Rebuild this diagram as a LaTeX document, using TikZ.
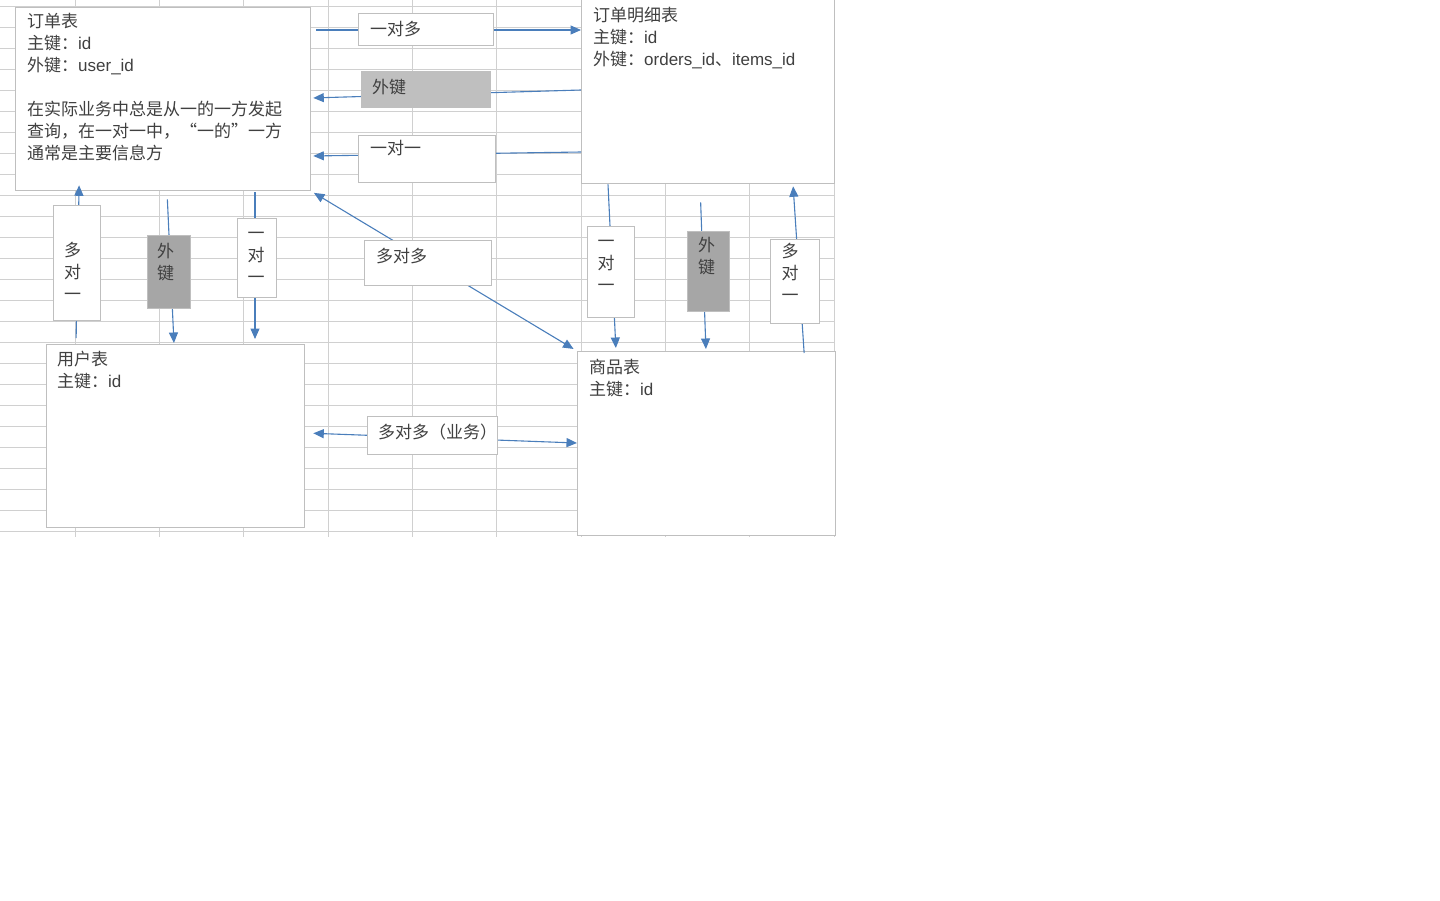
\documentclass[tikz,border=0pt]{standalone}
\usepackage{fontspec}
\setmainfont{Noto Sans CJK SC}
\newfontfamily\lat{Liberation Sans}
\usepackage{tikz}
\usetikzlibrary{shapes,arrows.meta}
\definecolor{gridgray}{HTML}{D0D0D0}
\definecolor{boxgray}{HTML}{BFBFBF}
\definecolor{fklight}{HTML}{BFBFBF}
\definecolor{fkdark}{HTML}{A6A6A6}
\definecolor{txtgray}{HTML}{404040}
\definecolor{linkblue}{HTML}{4A7EBB}
\newcommand{\en}[1]{{\lat #1}}
\tikzset{
  tablebox/.style = {draw=boxgray, line width=1.3pt, fill=white, rectangle, anchor=north west, inner sep=0pt},
  relbox/.style   = {tablebox},
  fkbox/.style    = {tablebox, fill=fklight},
  fkvbox/.style   = {tablebox, fill=fkdark},
  txt/.style      = {anchor=north west, inner sep=0pt, align=left, text=txtgray, font=\fontsize{17}{22}\selectfont},
  vtxt/.style     = {txt, anchor=center, align=center},
  link/.style     = {draw=linkblue, line width=1.1pt},
  gridline/.style = {draw=gridgray, line width=1pt}
}

\begin{document}
\begin{tikzpicture}[x=1pt, y=-1pt, >={Triangle[length=10.5pt, width=9pt]}]
\useasboundingbox (0,0) rectangle (1440,900);

% Sheet grid
\foreach \r in {0,...,25} \draw[gridline] (0,6.5+21*\r) -- (834.3,6.5+21*\r);
\foreach \c in {0,...,9} \draw[gridline] (75+84.37*\c,0) -- (75+84.37*\c,537);

% Tables
\node [tablebox, minimum width=295, minimum height=183] (orders) at (15,7) {};
\node [tablebox, minimum width=253, minimum height=185] (detail) at (581,-2) {};
\node [tablebox, minimum width=258, minimum height=183] (users) at (46,344) {};
\node [tablebox, minimum width=258, minimum height=184] (goods) at (577,351) {};

% Connections
\draw[link, ->, shorten <=5pt] (orders.east |- 0,30) -- (detail.west |- 0,30);
\draw[link, ->, shorten >=2pt] (detail.west |- 0,90) -- (orders.east |- 0,98);
\draw[link, ->, shorten >=2pt] (detail.west |- 0,152) -- (orders.east |- 0,156);
\draw[link, <->, shorten <=3pt, shorten >=4pt] (orders.south east) -- (goods.north west);
\draw[link, <->, shorten <=8pt] (users.east |- 0,433) -- (goods.west |- 0,443);
\draw[link, ->, shorten <=6pt, shorten >=-6pt] (76,0 |- users.north) -- (79,0 |- orders.south);
\draw[link, ->, shorten <=8pt, shorten >=1pt] (167,0 |- orders.south) -- (174,0 |- users.north);
\draw[link, ->, shorten <=1pt, shorten >=5pt] (255,0 |- orders.south) -- (255,0 |- users.north);
\draw[link, ->, shorten >=3pt] (608,0 |- detail.south) -- (616,0 |- goods.north);
\draw[link, ->, shorten <=18pt, shorten >=2pt] (700,0 |- detail.south) -- (706,0 |- goods.north);
\draw[link, ->, shorten <=-2pt, shorten >=2pt] (804,0 |- goods.north) -- (793,0 |- detail.south);

% Relation boxes
\node [relbox, minimum width=135, minimum height=32] (r1) at (358,13) {};
\node [fkbox, minimum width=129, minimum height=36] (r2) at (361,71) {};
\node [relbox, minimum width=137, minimum height=47] (r3) at (358,135) {};
\node [relbox, minimum width=127, minimum height=45] (r4) at (364,240) {};
\node [relbox, minimum width=130, minimum height=38] (r5) at (367,416) {};
\node [relbox, minimum width=47, minimum height=115] (v1) at (53,205) {};
\node [fkvbox, minimum width=43, minimum height=73] (v2) at (147,235) {};
\node [relbox, minimum width=39, minimum height=79] (v3) at (237,218) {};
\node [relbox, minimum width=47, minimum height=91] (v4) at (587,226) {};
\node [fkvbox, minimum width=42, minimum height=80] (v5) at (687,231) {};
\node [relbox, minimum width=49, minimum height=84] (v6) at (770,239) {};

% Texts
\node [txt] (orders-t) at (27,13.5) {订单表\\主键：\en{id}\\外键：\en{user\_id}\\[22pt]在实际业务中总是从一的一方发起\\查询，在一对一中，“一的”一方\\通常是主要信息方};
\node [txt] (detail-t) at (593,6.5) {订单明细表\\主键：\en{id}\\外键：\en{orders\_id}、\en{items\_id}};
\node [txt] (users-t) at (57,350.5) {用户表\\主键：\en{id}};
\node [txt] (goods-t) at (589,358.5) {商品表\\主键：\en{id}};
\node [txt] (r1-t) at (370,20.5) {一对多};
\node [txt] (r2-t) at (372,78.5) {外键};
\node [txt] (r3-t) at (370,140.5) {一对一};
\node [txt] (r4-t) at (376,247.5) {多对多};
\node [txt] (r5-t) at (378,423.5) {多对多（业务）};
\node [vtxt] (v1-t) at (72.5,271.5) {多\\对\\一};
\node [vtxt] (v2-t) at (165.5,262) {外\\键};
\node [vtxt] (v3-t) at (256,257.5) {一\\对\\一};
\node [vtxt] (v4-t) at (606,265.5) {一\\对\\一};
\node [vtxt] (v5-t) at (706.5,256.5) {外\\键};
\node [vtxt] (v6-t) at (790,272) {多\\对\\一};

\end{tikzpicture}
\end{document}
